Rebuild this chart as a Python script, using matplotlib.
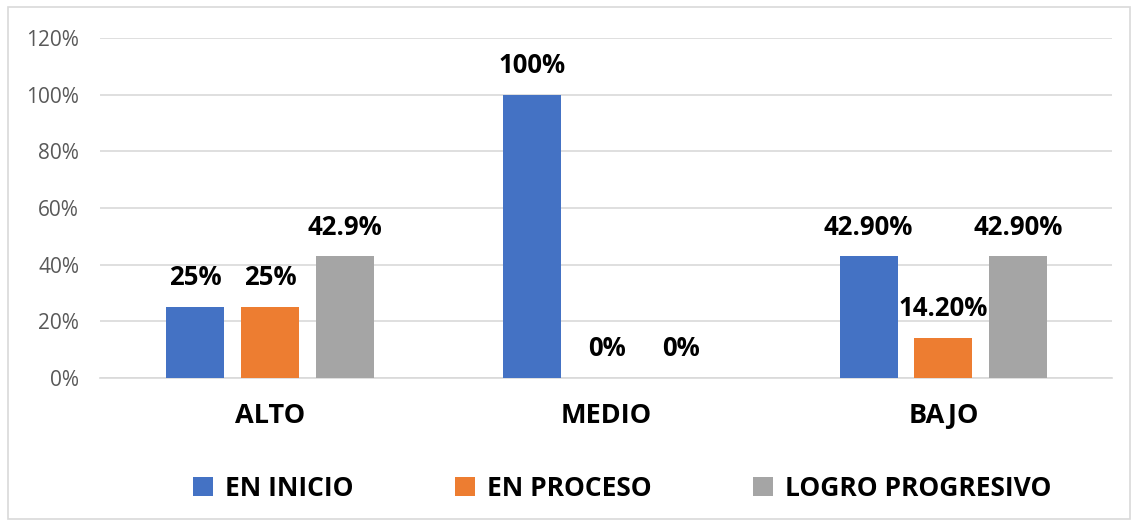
import matplotlib.pyplot as plt
from matplotlib.patches import Rectangle
import numpy as np

categories = ['ALTO', 'MEDIO', 'BAJO']
series = ['EN INICIO', 'EN PROCESO', 'LOGRO PROGRESIVO']
en_inicio = [25, 100, 42.9]
en_proceso = [25, 0, 14.2]
logro = [42.9, 0, 42.9]
labels_inicio = ['25%', '100%', '42.90%']
labels_proceso = ['25%', '0%', '14.20%']
labels_logro = ['42.9%', '0%', '42.90%']
colors = ['#4472C4', '#ED7D31', '#A5A5A5']

plt.rcParams['font.family'] = ['Open Sans', 'DejaVu Sans']

fig = plt.figure(figsize=(11.38, 5.21), dpi=100)
ax = fig.add_axes([0.0879, 0.2745, 0.889, 0.6526])

# outer chart border
fig.patches.append(Rectangle((0.007, 0.004), 0.986, 0.982, transform=fig.transFigure,
                             fill=False, edgecolor='#D9D9D9', linewidth=1.2))

x = np.arange(len(categories))
w = 0.172
off = 0.222
data = [en_inicio, en_proceso, logro]
labs = [labels_inicio, labels_proceso, labels_logro]
for i, (vals, lab) in enumerate(zip(data, labs)):
    bars = ax.bar(x + (i - 1) * off, vals, w, color=colors[i], label=series[i], zorder=3)
    for b, v, t in zip(bars, vals, lab):
        ax.annotate(t, (b.get_x() + b.get_width() / 2, v), xytext=(0, 21),
                    textcoords='offset points', ha='center', va='center',
                    fontsize=18.5, fontweight='bold', color='black')

ax.set_ylim(0, 120)
ax.set_xlim(-0.505, 2.5)
ax.set_yticks(range(0, 121, 20))
ax.set_yticklabels([f'{t}%' for t in range(0, 121, 20)])
ax.yaxis.grid(True, color='#D9D9D9', linewidth=1.2, zorder=0)
ax.set_xticks(x)
ax.set_xticklabels(categories, fontsize=19.5, fontweight='bold')
ax.tick_params(axis='y', length=0, labelsize=15, labelcolor='#595959', pad=15)
ax.tick_params(axis='x', length=0, pad=18)
for s in ['top', 'right', 'left']:
    ax.spines[s].set_visible(False)
ax.spines['bottom'].set_color('#D9D9D9')
ax.spines['bottom'].set_linewidth(1.2)

ax.legend(loc='center', bbox_to_anchor=(0.516, -0.325), ncol=3, frameon=False,
          prop={'size': 19, 'weight': 'bold'}, handlelength=0.75, handleheight=0.75,
          columnspacing=3.85, handletextpad=0.45)

fig.savefig('out.png', dpi=100)
